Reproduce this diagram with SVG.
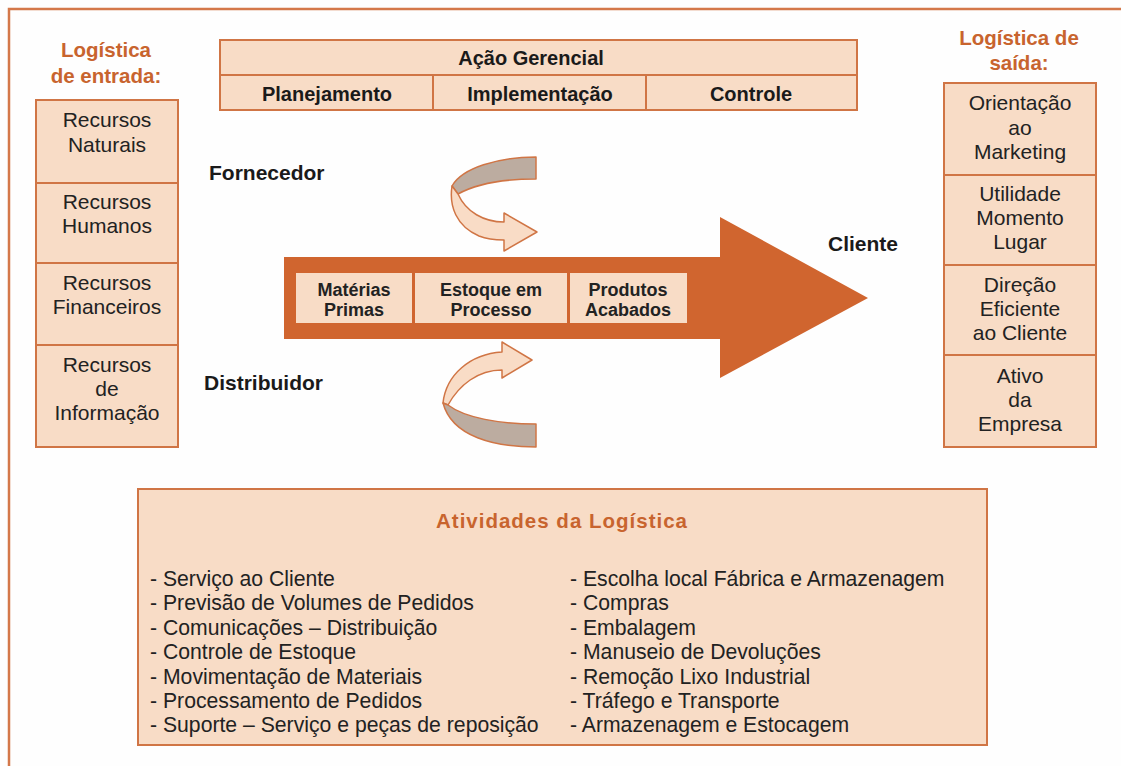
<svg xmlns="http://www.w3.org/2000/svg" width="1121" height="766" viewBox="0 0 1121 766">
<style>
.bg{fill:#fefefe}
.frame{fill:none;stroke:#d4784a;stroke-width:2.5}
.box{fill:#f8dcc6;stroke:#d07545;stroke-width:2}
.t{font-family:"Liberation Sans",Arial,sans-serif;font-size:21px;fill:#222;text-anchor:middle}
.b{font-family:"Liberation Sans",Arial,sans-serif;font-size:20px;font-weight:bold;fill:#1a1a1a}
.n{font-size:21px}
.h{font-family:"Liberation Sans",Arial,sans-serif;font-size:20.5px;font-weight:bold;fill:#c8642e;text-anchor:middle}
.ib{font-family:"Liberation Sans",Arial,sans-serif;font-size:18px;font-weight:bold;fill:#222;text-anchor:middle}
.l{font-family:"Liberation Sans",Arial,sans-serif;font-size:21.2px;fill:#222}
.big{fill:#d0652f}
.inner{fill:#f8dcc6}
.lt{fill:#f9dcc6;stroke:#d07545;stroke-width:1.5;stroke-linejoin:round}
.gr{fill:#bcaca0;stroke:#d07545;stroke-width:1.5;stroke-linejoin:round}
</style>
<rect class="bg" x="0" y="0" width="1121" height="766"/>
<path class="frame" d="M9,770 L9,9 L1125,9"/>

<g id="acao-gerencial">
  <rect class="box" x="220" y="40" width="637" height="70"/>
  <line x1="220" y1="75" x2="857" y2="75" stroke="#d07545" stroke-width="2"/>
  <line x1="433" y1="75" x2="433" y2="110" stroke="#d07545" stroke-width="2"/>
  <line x1="646" y1="75" x2="646" y2="110" stroke="#d07545" stroke-width="2"/>
  <text class="b" x="531" y="65" text-anchor="middle">Ação Gerencial</text>
  <text class="b" x="327" y="101" text-anchor="middle">Planejamento</text>
  <text class="b" x="540" y="101" text-anchor="middle">Implementação</text>
  <text class="b" x="751" y="101" text-anchor="middle">Controle</text>
</g>

<g id="logistica-entrada-titulo">
  <text class="h" x="106" y="57">Logística</text>
  <text class="h" x="106" y="83">de entrada:</text>
</g>
<g id="recursos-naturais">
  <rect class="box" x="36" y="100" width="142" height="83"/>
  <text class="t" x="107" y="127">Recursos</text>
  <text class="t" x="107" y="152">Naturais</text>
</g>
<g id="recursos-humanos">
  <rect class="box" x="36" y="183" width="142" height="80"/>
  <text class="t" x="107" y="209">Recursos</text>
  <text class="t" x="107" y="233">Humanos</text>
</g>
<g id="recursos-financeiros">
  <rect class="box" x="36" y="263" width="142" height="82"/>
  <text class="t" x="107" y="290">Recursos</text>
  <text class="t" x="107" y="314">Financeiros</text>
</g>
<g id="recursos-informacao">
  <rect class="box" x="36" y="345" width="142" height="102"/>
  <text class="t" x="107" y="372">Recursos</text>
  <text class="t" x="107" y="396">de</text>
  <text class="t" x="107" y="420">Informação</text>
</g>

<g id="logistica-saida-titulo">
  <text class="h" x="1019" y="45">Logística de</text>
  <text class="h" x="1019" y="70">saída:</text>
</g>
<g id="orientacao-marketing">
  <rect class="box" x="944" y="83" width="152" height="92"/>
  <text class="t" x="1020" y="110">Orientação</text>
  <text class="t" x="1020" y="135">ao</text>
  <text class="t" x="1020" y="159">Marketing</text>
</g>
<g id="utilidade">
  <rect class="box" x="944" y="175" width="152" height="90"/>
  <text class="t" x="1020" y="201">Utilidade</text>
  <text class="t" x="1020" y="225">Momento</text>
  <text class="t" x="1020" y="249">Lugar</text>
</g>
<g id="direcao-eficiente">
  <rect class="box" x="944" y="265" width="152" height="90"/>
  <text class="t" x="1020" y="292">Direção</text>
  <text class="t" x="1020" y="316">Eficiente</text>
  <text class="t" x="1020" y="340">ao Cliente</text>
</g>
<g id="ativo-empresa">
  <rect class="box" x="944" y="355" width="152" height="92"/>
  <text class="t" x="1020" y="383">Ativo</text>
  <text class="t" x="1020" y="407">da</text>
  <text class="t" x="1020" y="431">Empresa</text>
</g>

<g id="fornecedor"><text class="b n" x="209" y="180">Fornecedor</text></g>
<g id="distribuidor"><text class="b n" x="204" y="390">Distribuidor</text></g>
<g id="cliente"><text class="b n" x="828" y="251">Cliente</text></g>

<g id="connectors">
  <polygon class="big" points="284,257 720,257 720,217 868,298 720,378 720,339 284,339"/>
  <path class="gr" d="M536,157 L536,179 C505,179 478,183 458,194 L452,186 C462,168 498,157 536,157 Z"/>
  <path class="lt" d="M452,186 C449,206 456,226 479,236 C489,240 498,240 504,240 L504,251 L537,232 L504,213 L504,222 C484,222 466,212 458,194 Z"/>
  <path class="lt" d="M443,403 C446,375 470,354 502,352 L502,342 L532,360 L502,378 L502,370 C478,370 459,385 448,405 Z"/>
  <path class="gr" d="M443,403 L448,405 C465,418 500,424 536,424 L536,447 C495,447 452,437 443,403 Z"/>
</g>

<g id="materias-primas">
  <rect class="inner" x="296" y="273" width="116" height="50"/>
  <text class="ib" x="354" y="296">Matérias</text>
  <text class="ib" x="354" y="316">Primas</text>
</g>
<g id="estoque-processo">
  <rect class="inner" x="415" y="273" width="152" height="50"/>
  <text class="ib" x="491" y="296">Estoque em</text>
  <text class="ib" x="491" y="316">Processo</text>
</g>
<g id="produtos-acabados">
  <rect class="inner" x="570" y="273" width="117" height="50"/>
  <text class="ib" x="628" y="296">Produtos</text>
  <text class="ib" x="628" y="316">Acabados</text>
</g>

<g id="atividades-logistica">
  <rect class="box" x="138" y="489" width="849" height="256"/>
  <text class="h" x="562" y="528" font-size="22" letter-spacing="1">Atividades da Logística</text>
  <text class="l" x="150" y="586">- Serviço ao Cliente</text>
  <text class="l" x="150" y="610">- Previsão de Volumes de Pedidos</text>
  <text class="l" x="150" y="635">- Comunicações – Distribuição</text>
  <text class="l" x="150" y="659">- Controle de Estoque</text>
  <text class="l" x="150" y="684">- Movimentação de Materiais</text>
  <text class="l" x="150" y="708">- Processamento de Pedidos</text>
  <text class="l" x="150" y="732">- Suporte – Serviço e peças de reposição</text>
  <text class="l" x="570" y="586">- Escolha local Fábrica e Armazenagem</text>
  <text class="l" x="570" y="610">- Compras</text>
  <text class="l" x="570" y="635">- Embalagem</text>
  <text class="l" x="570" y="659">- Manuseio de Devoluções</text>
  <text class="l" x="570" y="684">- Remoção Lixo Industrial</text>
  <text class="l" x="570" y="708">- Tráfego e Transporte</text>
  <text class="l" x="570" y="732">- Armazenagem e Estocagem</text>
</g>
</svg>
